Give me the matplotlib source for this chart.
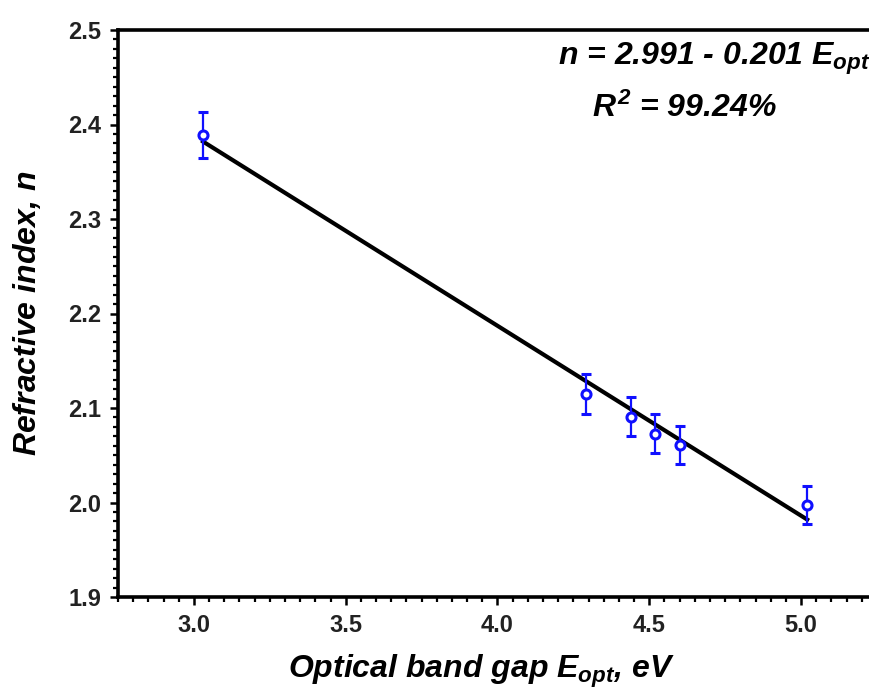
import numpy as np
import matplotlib.pyplot as plt
from matplotlib.ticker import MultipleLocator

# optical band gap (eV), refractive index and error bars
e_opt = [3.03, 4.29, 4.44, 4.52, 4.60, 5.02]
n_vals = [2.389, 2.115, 2.091, 2.073, 2.061, 1.997]
n_err = [0.024, 0.021, 0.021, 0.021, 0.020, 0.020]

# linear fit quoted on the chart
intercept = 2.991
slope = -0.201

plt.rcParams['font.family'] = 'Liberation Sans'
plt.rcParams['mathtext.fontset'] = 'custom'
plt.rcParams['mathtext.rm'] = 'Liberation Sans:bold:italic'
plt.rcParams['mathtext.it'] = 'Liberation Sans:bold:italic'
plt.rcParams['mathtext.bf'] = 'Liberation Sans:bold:italic'

fig = plt.figure(figsize=(8.7, 6.93), dpi=100)
# axes runs past the right edge, as in the cropped original
ax = fig.add_axes([118/870, 1 - 597/693, 759/870, 567/693])

xfit = np.array([min(e_opt), max(e_opt)])
ax.plot(xfit, intercept + slope * xfit, color='black', lw=3, zorder=2)

ax.errorbar(e_opt, n_vals, yerr=n_err, fmt='o', color='#1010ff',
            mfc='white', mec='#1010ff', ms=6.5, mew=2.2, elinewidth=1.6,
            capsize=3.5, capthick=1.6, zorder=3)

ax.set_xlim(2.75, 5.25)
ax.set_ylim(1.9, 2.5)
ax.xaxis.set_major_locator(MultipleLocator(0.5))
ax.xaxis.set_minor_locator(MultipleLocator(0.05))
ax.yaxis.set_major_locator(MultipleLocator(0.1))
ax.yaxis.set_minor_locator(MultipleLocator(0.01))
ax.xaxis.set_major_formatter(plt.FormatStrFormatter('%.1f'))
ax.yaxis.set_major_formatter(plt.FormatStrFormatter('%.1f'))

for side in ['left', 'bottom', 'top']:
    ax.spines[side].set_linewidth(2.6)
ax.spines['right'].set_visible(False)

ax.tick_params(which='major', direction='out', length=6, width=1.8,
               labelsize=17, pad=6, top=False, right=False)
ax.tick_params(which='minor', direction='out', length=3.5, width=1.6,
               top=False, right=False)
for lab in ax.get_xticklabels() + ax.get_yticklabels():
    lab.set_fontweight('bold')
    lab.set_color('#222222')

ax.set_xlabel('Optical band gap $E_{opt}$, eV', fontsize=23,
              fontweight='bold', fontstyle='italic')
ax.xaxis.set_label_coords((481 - 118) / 759, -0.098)
ax.set_ylabel('Refractive index, $n$', fontsize=23,
              fontweight='bold', fontstyle='italic')
ax.yaxis.set_label_coords(-0.099, 0.5)

fig.text(558/870, 1 - 65/693, 'n = 2.991 - 0.201 $E_{opt}$', fontsize=23,
         fontweight='bold', fontstyle='italic', ha='left', va='baseline')
fig.text(592/870, 1 - 117/693, '$R^2$ = 99.24%', fontsize=23,
         fontweight='bold', fontstyle='italic', ha='left', va='baseline')

fig.savefig('out.png', dpi=100)
